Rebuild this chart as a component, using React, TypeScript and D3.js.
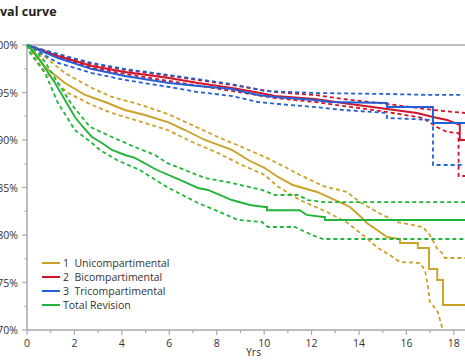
import React from "react";
import * as d3 from "d3";

type P = [number, number];

const seriesNames = ["1  Unicompartimental", "2  Bicompartimental", "3  Tricompartimental", "Total Revision"];
const seriesColors = ["#C9A227", "#D0142C", "#2460D4", "#22B43A"];

const yTicks = [70, 75, 80, 85, 90, 95, 100];
const yMinor = [72.5, 77.5, 82.5, 87.5, 92.5, 97.5];
const xTicks = [0, 2, 4, 6, 8, 10, 12, 14, 16, 18];
const xMinor = [1, 3, 5, 7, 9, 11, 13, 15, 17];

const uniSolid: P[] = [[0,100],[0.34,99.16],[0.76,97.68],[1.6,96.0],[2.45,94.74],[3.29,94.0],[4.13,93.16],[4.97,92.63],[5.94,91.89],[6.66,91.05],[7.5,90.0],[8.64,88.95],[9.4,87.79],[10.03,87.05],[10.58,86.11],[11.21,85.26],[12.23,84.53],[13.07,83.58],[13.62,82.95],[14.04,82.0],[14.33,81.26],[14.76,80.53],[15.18,79.79],[15.43,79.68],[15.73,79.58],[15.73,79.16],[16.48,79.16],[16.48,78.63],[16.95,78.63],[16.95,76.42],[17.3,76.42],[17.3,75.26],[17.54,75.26],[17.54,72.63],[18.47,72.63]];
const uniUpper: P[] = [[0,100],[0.76,98.74],[1.6,97.05],[2.74,95.47],[3.58,94.53],[4.55,93.89],[5.94,92.74],[6.96,91.58],[8.05,90.32],[9.06,89.26],[10.03,88.21],[10.88,87.16],[11.51,86.32],[12.48,85.16],[13.49,84.53],[14.04,83.47],[14.76,82.42],[15.6,81.37],[16.69,80.84],[16.99,80.0],[17.28,78.63],[17.5,78.11],[17.62,77.58],[18.47,77.58]];
const uniLower: P[] = [[0,100],[0.76,97.16],[1.73,94.95],[2.74,93.68],[3.58,92.84],[4.55,92.11],[5.94,91.05],[6.96,89.79],[8.05,88.63],[9.06,87.37],[10.03,86.32],[10.54,85.16],[11.51,83.68],[12.65,82.42],[13.53,81.26],[14.21,79.89],[14.8,78.63],[15.3,77.89],[15.73,77.16],[16.57,77.05],[16.78,76.32],[16.91,74.53],[16.99,72.95],[17.28,72.11],[17.33,71.79],[17.5,70.32],[17.54,70.0]];

const biSolid: P[] = [[0,100],[1.31,98.84],[2.74,97.79],[4.13,97.16],[5.99,96.53],[7.21,96.0],[8.64,95.47],[9.61,95.05],[10.46,94.63],[12.14,94.32],[13.32,93.89],[15.18,93.26],[16.44,92.84],[16.78,92.63],[17.12,92.42],[17.71,92.11],[17.96,91.89],[18.25,91.58],[18.25,90.0],[18.47,90.0]];
const biUpper: P[] = [[0,100],[1.31,98.95],[2.74,98.0],[4.13,97.37],[5.99,96.74],[8.64,95.79],[10.46,95.05],[12.14,94.74],[13.32,94.32],[15.18,93.79],[17.12,93.16],[18.47,92.84]];
const biLower: P[] = [[0,100],[1.31,98.74],[2.74,97.58],[4.13,96.95],[5.99,96.21],[8.64,95.16],[10.46,94.42],[12.14,94.0],[15.18,92.95],[16.69,92.32],[17.28,91.37],[17.71,90.84],[18.2,90.74],[18.2,86.21],[18.47,86.21]];

const triSolid: P[] = [[0,100],[1.31,98.63],[2.74,97.47],[4.13,96.74],[5.99,96.0],[7.21,95.68],[8.64,95.37],[9.74,94.74],[10.46,94.53],[12.14,94.21],[12.77,94.0],[15.18,93.89],[15.18,93.47],[17.12,93.47],[17.12,91.79],[18.47,91.79]];
const triUpper: P[] = [[0,100],[1.31,99.05],[2.74,98.1],[4.13,97.47],[5.99,96.84],[8.64,95.89],[10.03,95.16],[12.14,94.95],[15.18,94.84],[17.12,94.74],[18.4,94.74]];
const triLower: P[] = [[0,100],[1.31,98.11],[2.74,97.05],[4.13,96.32],[5.99,95.58],[7.21,95.05],[8.64,94.63],[9.74,94.0],[10.58,93.79],[12.14,93.47],[13.32,93.16],[15.18,92.84],[15.18,92.32],[17.12,92.11],[17.12,87.37],[18.4,87.37]];

const totSolid: P[] = [[0,100],[0.13,99.68],[0.63,98.11],[1.18,96.0],[1.6,94.21],[2.02,92.42],[2.36,91.37],[2.74,90.32],[3.16,89.68],[3.58,88.95],[4.13,88.42],[4.55,88.11],[5.48,86.84],[6.45,85.79],[7.21,84.95],[7.63,84.74],[8.64,83.68],[9.4,83.16],[10.03,82.95],[10.12,82.95],[10.12,82.6],[11.5,82.6],[11.8,82.11],[12.48,81.89],[12.56,81.89],[12.56,81.58],[18.47,81.58]];
const totUpper: P[] = [[0,100],[0.34,99.47],[0.76,98.21],[1.31,96.0],[1.9,93.68],[2.66,91.37],[3.58,90.32],[4.55,89.26],[5.4,88.42],[5.9,87.58],[6.66,86.84],[7.5,86.0],[8.64,85.47],[9.91,84.74],[10.46,84.21],[11.42,84.21],[11.85,83.68],[12.48,83.47],[18.47,83.47]];
const totLower: P[] = [[0,100],[0.13,99.16],[0.76,97.05],[1.31,93.89],[2.02,91.05],[2.74,89.68],[3.08,88.95],[3.79,87.89],[4.76,86.84],[5.9,85.05],[7.21,83.37],[7.93,82.63],[8.9,81.58],[9.91,81.37],[10.16,80.84],[11.3,80.84],[12.02,80.0],[12.48,79.58],[18.47,79.58]];

const groups = [
  { solid: uniSolid, upper: uniUpper, lower: uniLower },
  { solid: biSolid, upper: biUpper, lower: biLower },
  { solid: triSolid, upper: triUpper, lower: triLower },
  { solid: totSolid, upper: totUpper, lower: totLower },
];

const W = 465;
const H = 360;
const FONT = "'Open Sans', 'Noto Sans', sans-serif";

export default function App() {
  const x = d3.scaleLinear().domain([0, 18.47]).range([27, 465]);
  const y = d3.scaleLinear().domain([70, 100]).range([330, 45]);
  const line = d3.line<P>().x((d) => x(d[0])).y((d) => y(d[1]));
  const axisColor = "#A8A8A8";

  return (
    <svg width={W} height={H} style={{ position: "fixed", left: 0, top: 0, background: "#fff" }} fontFamily={FONT}>
      <rect x={0} y={0} width={W} height={H} fill="#fff" />
      <text x={0} y={16} fontSize={12.5} fontWeight="bold" fill="#222">val curve</text>

      <line x1={x(0)} x2={W} y1={y(100)} y2={y(100)} stroke={axisColor} strokeWidth={1.5} />
      <line x1={x(0)} x2={x(0)} y1={y(100)} y2={y(70)} stroke={axisColor} strokeWidth={1.5} />
      <line x1={x(0)} x2={W} y1={y(70)} y2={y(70)} stroke={axisColor} strokeWidth={1.5} />

      {yTicks.map((t) => (
        <g key={"yt" + t}>
          <line x1={x(0) - 5} x2={x(0)} y1={y(t)} y2={y(t)} stroke={axisColor} strokeWidth={1.2} />
          <text x={18} y={y(t) + 4} fontSize={10.5} textAnchor="end" fill="#333">{t + "%"}</text>
        </g>
      ))}
      {yMinor.map((t) => (
        <line key={"ym" + t} x1={x(0) - 2.5} x2={x(0)} y1={y(t)} y2={y(t)} stroke={axisColor} strokeWidth={1.2} />
      ))}
      {xTicks.map((t) => (
        <g key={"xt" + t}>
          <line x1={x(t)} x2={x(t)} y1={y(70)} y2={y(70) + 5} stroke={axisColor} strokeWidth={1.2} />
          <text x={x(t)} y={347} fontSize={10.5} textAnchor="middle" fill="#333">{t}</text>
        </g>
      ))}
      {xMinor.map((t) => (
        <line key={"xm" + t} x1={x(t)} x2={x(t)} y1={y(70)} y2={y(70) + 3} stroke={axisColor} strokeWidth={1.2} />
      ))}
      <text x={246} y={356} fontSize={10.5} fill="#333">Yrs</text>

      {groups.map((g, i) => (
        <g key={"g" + i}>
          <path d={line(g.upper) || ""} fill="none" stroke={seriesColors[i]} strokeWidth={1.8} strokeDasharray="4 3" />
          <path d={line(g.lower) || ""} fill="none" stroke={seriesColors[i]} strokeWidth={1.8} strokeDasharray="4 3" />
          <path d={line(g.solid) || ""} fill="none" stroke={seriesColors[i]} strokeWidth={1.9} />
        </g>
      ))}

      {seriesNames.map((n, i) => (
        <g key={"lg" + i}>
          <line x1={42} x2={60} y1={263 + i * 14} y2={263 + i * 14} stroke={seriesColors[i]} strokeWidth={2} />
          <text x={63} y={263 + i * 14 + 4} fontSize={10.5} fill="#333" style={{ whiteSpace: "pre" }}>{n}</text>
        </g>
      ))}
    </svg>
  );
}
